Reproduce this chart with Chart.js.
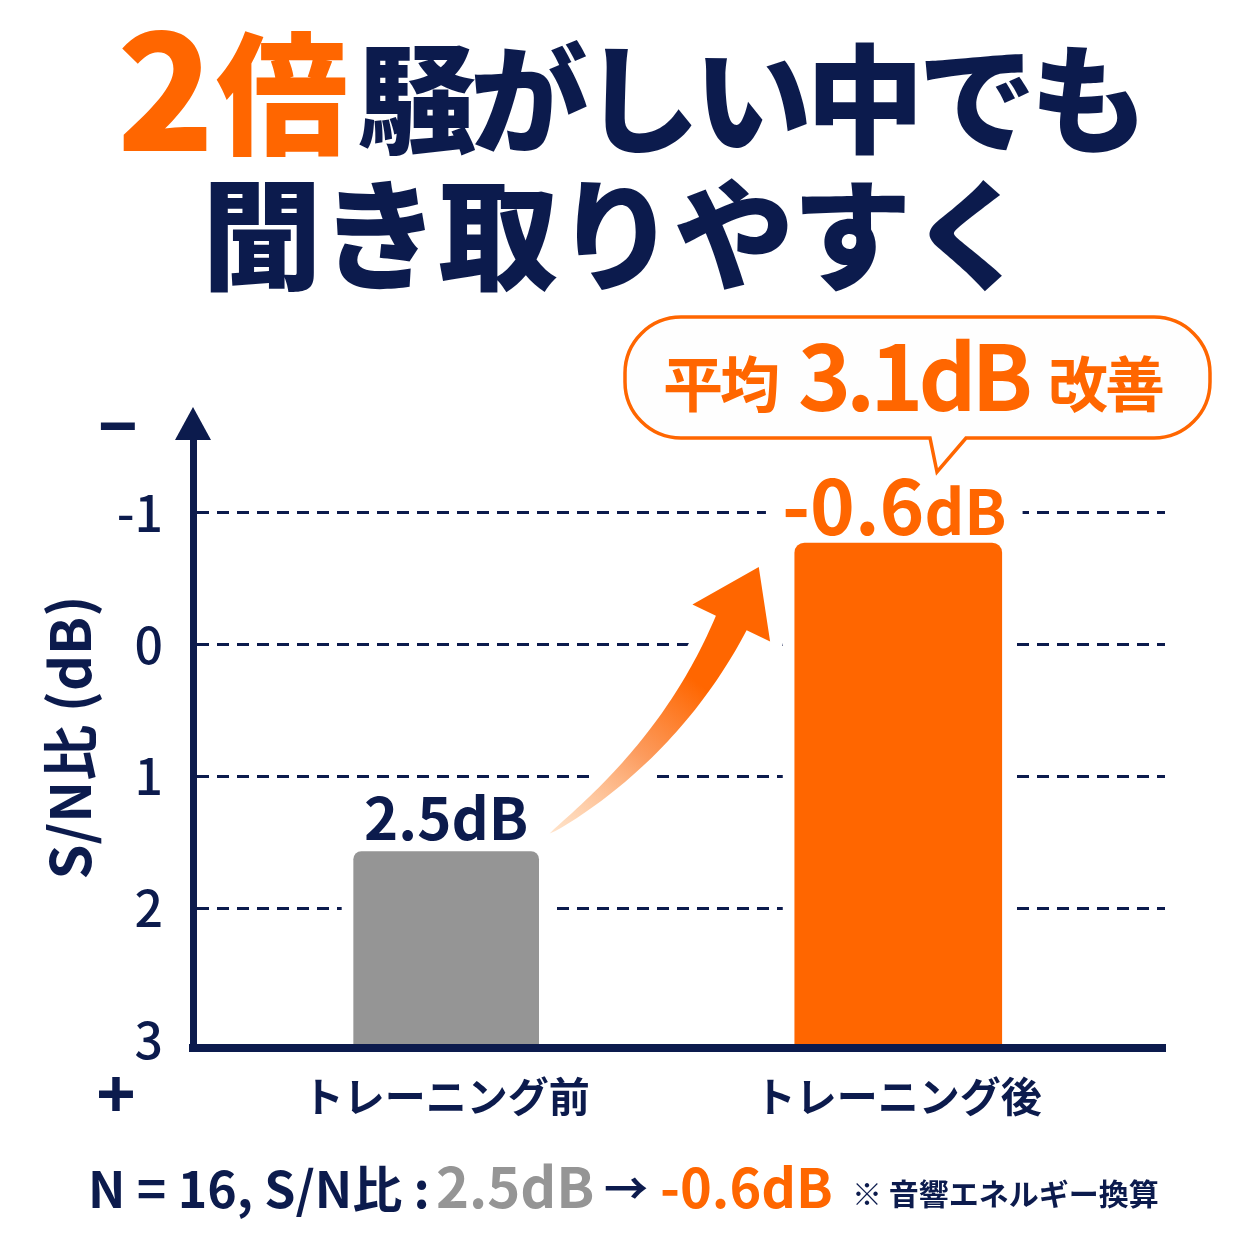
<!DOCTYPE html>
<html lang="ja">
<head>
<meta charset="utf-8">
<title>2倍騒がしい中でも聞き取りやすく</title>
<script src="https://cdn.jsdelivr.net/npm/chart.js@4.4.1/dist/chart.umd.min.js"></script>
<style>
  html, body { margin: 0; padding: 0; background: #ffffff; }
  #wrap { width: 1254px; height: 1254px; position: relative; }
</style>
</head>
<body>
<div id="wrap"><canvas id="snChart"></canvas></div>
<script>
// ---- data ----
var categories = ["トレーニング前", "トレーニング後"];
var snBarTop = [1.57, -0.77];            // bar tops as drawn (dB, axis reversed)
var valueLabels = ["2.5dB", "-0.6dB"];
var yTicks = [-1, 0, 1, 2, 3];
var yMin = -1.65;
var yMax = 3.06;

var titleHighlight = ["2", "倍"];
var titleLine1 = "騒がしい中でも";
var titleLine2 = "聞き取りやすく";
var calloutText = ["平均", "3.1dB", "改善"];
var footerText = ["N = 16, S/N比 :", "2.5dB", "→", "-0.6dB", "※ 音響エネルギー換算"];

// ---- styles ----
var NAVY = "#0c1b4d";
var ORANGE = "#ff6600";
var GRAY = "#959595";
var FONT = '"Noto Sans CJK JP", "Noto Sans", sans-serif';
var barColors = [GRAY, ORANGE];
var barWidths = [185, 207];

function font(weight, size) {
  return weight + " " + size + "px " + FONT;
}

function drawRuns(ctx, runs, x, y, align) {
  var widths = runs.map(function (r) {
    ctx.font = r.font;
    ctx.letterSpacing = r.ls || "0px";
    return ctx.measureText(r.text).width;
  });
  var total = widths.reduce(function (a, b) { return a + b; }, 0);
  var cx = align === "center" ? x - total / 2 : x;
  ctx.textAlign = "left";
  ctx.textBaseline = "alphabetic";
  runs.forEach(function (r, i) {
    ctx.font = r.font;
    ctx.letterSpacing = r.ls || "0px";
    ctx.fillStyle = r.color;
    ctx.fillText(r.text, cx, y);
    cx += widths[i];
  });
  ctx.letterSpacing = "0px";
  return total;
}

function barProps(chart, i) {
  var el = chart.getDatasetMeta(i).data[0];
  return el.getProps(["x", "y", "width", "base"], true);
}

// white gaps around the bars (grid lines stop short of them)
var barGapPlugin = {
  id: "barGap",
  beforeDatasetsDraw: function (chart) {
    var ctx = chart.ctx;
    ctx.save();
    ctx.fillStyle = "#ffffff";
    categories.forEach(function (c, i) {
      var p = barProps(chart, i);
      ctx.fillRect(p.x - p.width / 2 - 12, p.y, p.width + 24, p.base - p.y - 8);
    });
    ctx.restore();
  },
};

function bez(p0, c, p2, t) {
  var u = 1 - t;
  return { x: u * u * p0.x + 2 * u * t * c.x + t * t * p2.x, y: u * u * p0.y + 2 * u * t * c.y + t * t * p2.y };
}
function bezD(p0, c, p2, t) {
  return { x: 2 * (1 - t) * (c.x - p0.x) + 2 * t * (p2.x - c.x), y: 2 * (1 - t) * (c.y - p0.y) + 2 * t * (p2.y - c.y) };
}

var annotationPlugin = {
  id: "annotations",
  afterDatasetsDraw: function (chart) {
    var ctx = chart.ctx;
    var g = barProps(chart, 0);
    var o = barProps(chart, 1);
    ctx.save();

    // curved arrow from before-bar to after-bar
    var p0 = { x: g.x + g.width / 2 + 11, y: g.y - 18 };
    var tip = { x: o.x - o.width / 2 - 36, y: o.y + 24 };
    var p2 = { x: tip.x - 27.5, y: tip.y + 56 };
    var c = { x: p0.x + 122, y: p0.y - 85 };
    var left = [], right = [], n = 48;
    for (var i = 0; i <= n; i++) {
      var t = i / n;
      var pt = bez(p0, c, p2, t);
      var d = bezD(p0, c, p2, t);
      var len = Math.sqrt(d.x * d.x + d.y * d.y);
      var nx = -d.y / len, ny = d.x / len;
      var w = 17 * Math.pow(t, 0.7);
      left.push({ x: pt.x + nx * w, y: pt.y + ny * w });
      right.push({ x: pt.x - nx * w, y: pt.y - ny * w });
    }
    var dEnd = bezD(p0, c, p2, 1);
    var le = Math.sqrt(dEnd.x * dEnd.x + dEnd.y * dEnd.y);
    var hx = -dEnd.y / le * 43, hy = dEnd.x / le * 43;
    ctx.beginPath();
    ctx.moveTo(left[0].x, left[0].y);
    left.forEach(function (q) { ctx.lineTo(q.x, q.y); });
    ctx.lineTo(p2.x + hx, p2.y + hy);
    ctx.lineTo(tip.x, tip.y);
    ctx.lineTo(p2.x - hx, p2.y - hy);
    for (var k = right.length - 1; k >= 0; k--) ctx.lineTo(right[k].x, right[k].y);
    ctx.closePath();
    ctx.lineJoin = "round";
    ctx.strokeStyle = "#ffffff";
    ctx.lineWidth = 26;
    ctx.stroke();
    var grad = ctx.createLinearGradient(p0.x, p0.y, tip.x, tip.y);
    grad.addColorStop(0, "rgba(255, 205, 160, 0.55)");
    grad.addColorStop(0.35, "rgba(252, 150, 85, 0.95)");
    grad.addColorStop(0.62, ORANGE);
    grad.addColorStop(1, ORANGE);
    ctx.fillStyle = grad;
    ctx.fill();

    // value labels
    drawRuns(ctx, [{ text: valueLabels[0], font: font("bold", 58), color: NAVY }], g.x, g.y - 12, "center");

    var m = valueLabels[1].match(/^(.*?)(dB)$/);
    var runs = [
      { text: m[1], font: font("bold", 76), color: ORANGE },
      { text: m[2], font: font("bold", 62), color: ORANGE },
    ];
    var tw = 0;
    runs.forEach(function (r) { ctx.font = r.font; tw += ctx.measureText(r.text).width; });
    var by = o.y - 8;
    ctx.fillStyle = "#ffffff";
    ctx.fillRect(o.x - 4 - tw / 2 - 16, by - 58, tw + 32, 62);
    drawRuns(ctx, runs, o.x - 4, by, "center");

    // speech bubble
    var bx = 625, bt = 317, bw = 585, bh = 121, r = 56;
    ctx.beginPath();
    ctx.moveTo(bx + r, bt);
    ctx.lineTo(bx + bw - r, bt);
    ctx.arcTo(bx + bw, bt, bx + bw, bt + r, r);
    ctx.lineTo(bx + bw, bt + bh - r);
    ctx.arcTo(bx + bw, bt + bh, bx + bw - r, bt + bh, r);
    ctx.lineTo(966, bt + bh);
    ctx.lineTo(937, 472);
    ctx.lineTo(930, bt + bh);
    ctx.lineTo(bx + r, bt + bh);
    ctx.arcTo(bx, bt + bh, bx, bt + bh - r, r);
    ctx.lineTo(bx, bt + r);
    ctx.arcTo(bx, bt, bx + r, bt, r);
    ctx.closePath();
    ctx.fillStyle = "#fefefe";
    ctx.fill();
    ctx.strokeStyle = ORANGE;
    ctx.lineWidth = 3.5;
    ctx.lineJoin = "miter";
    ctx.stroke();

    drawRuns(ctx, [{ text: calloutText[0], font: font("bold", 60), color: ORANGE, ls: "-3px" }], 663, 407, "left");
    drawRuns(ctx, [{ text: calloutText[1], font: font("bold", 90), color: ORANGE, ls: "-5px" }], 798, 411, "left");
    drawRuns(ctx, [{ text: calloutText[2], font: font("bold", 60), color: ORANGE, ls: "-3px" }], 1048, 407, "left");
    ctx.restore();
  },
  afterDraw: function (chart) {
    var ctx = chart.ctx;
    var area = chart.chartArea;
    ctx.save();

    // arrowhead on the y axis
    ctx.fillStyle = NAVY;
    ctx.beginPath();
    ctx.moveTo(area.left, area.top - 20);
    ctx.lineTo(area.left + 18, area.top + 13);
    ctx.lineTo(area.left - 18, area.top + 13);
    ctx.closePath();
    ctx.fill();

    // − / + marks
    ctx.textAlign = "center";
    ctx.textBaseline = "alphabetic";
    ctx.font = 'bold 70px "Noto Sans", sans-serif';
    ctx.fillText("−", 118, 451);
    ctx.fillText("+", 116, 1119);

    // headline
    drawRuns(ctx, [{ text: titleHighlight[0], font: font("900", 160), color: ORANGE }], 117, 151, "left");
    drawRuns(ctx, [{ text: titleHighlight[1], font: font("900", 132), color: ORANGE }], 216, 144, "left");
    drawRuns(ctx, [{ text: titleLine1, font: font("900", 118), color: NAVY, ls: "-6px" }], 358, 144, "left");
    drawRuns(ctx, [{ text: titleLine2, font: font("900", 120), color: NAVY, ls: "-2px" }], 202, 281, "left");

    // footer
    drawRuns(ctx, [{ text: footerText[0], font: font("bold", 50), color: NAVY }], 88, 1208, "left");
    drawRuns(ctx, [{ text: footerText[1], font: font("bold", 56), color: GRAY }], 436, 1208, "left");
    drawRuns(ctx, [{ text: footerText[2], font: font("bold", 44), color: NAVY }], 604, 1205, "left");
    drawRuns(ctx, [{ text: footerText[3], font: font("bold", 54), color: ORANGE }], 660, 1208, "left");
    drawRuns(ctx, [{ text: footerText[4], font: font("bold", 30), color: NAVY }], 852, 1205, "left");
    ctx.restore();
  },
};

var ctx = document.getElementById("snChart").getContext("2d");

var chart = new Chart(ctx, {
  type: "bar",
  data: {
    datasets: categories.map(function (cat, i) {
      return {
        label: cat,
        data: [{ x: i + 1, y: snBarTop[i] }],
        backgroundColor: barColors[i],
        barThickness: barWidths[i],
        borderRadius: i === 0 ? 8 : 10,
        base: yMax,
        grouped: false,
      };
    }),
  },
  options: {
    responsive: true,
    maintainAspectRatio: false,
    animation: false,
    layout: { padding: { top: 427, right: 89, bottom: 106, left: 0 } },
    plugins: {
      legend: { display: false },
      tooltip: { enabled: false },
    },
    scales: {
      x: {
        type: "linear",
        offset: false,
        min: 0.44,
        max: 2.59,
        afterFit: function (scale) { scale.height = 100; },
        afterBuildTicks: function (scale) {
          scale.ticks = categories.map(function (c, i) { return { value: i + 1 }; });
        },
        grid: { display: false, offset: false },
        border: { display: true, color: NAVY, width: 8, z: 1 },
        ticks: {
          autoSkip: false,
          maxRotation: 0,
          padding: 16,
          color: NAVY,
          font: { family: FONT, size: 41, weight: "bold" },
          callback: function (v) { return categories[v - 1] || ""; },
        },
      },
      y: {
        type: "linear",
        reverse: true,
        min: yMin,
        max: yMax,
        afterFit: function (scale) { scale.width = 193; },
        afterBuildTicks: function (scale) {
          scale.ticks = yTicks.map(function (v) { return { value: v }; });
        },
        grid: {
          drawTicks: false,
          lineWidth: 3,
          color: function (c) {
            return c.tick && c.tick.value === yTicks[yTicks.length - 1] ? "rgba(0,0,0,0)" : NAVY;
          },
        },
        border: { display: true, color: NAVY, width: 7, dash: [12, 8], z: 1 },
        ticks: {
          padding: 30,
          color: NAVY,
          font: { family: FONT, size: 50, weight: "500" },
          callback: function (v) { return String(v); },
        },
        title: {
          display: true,
          text: "S/N比 (dB)",
          color: NAVY,
          font: { family: FONT, size: 56, weight: "bold" },
          padding: { top: 36, bottom: 0 },
        },
      },
    },
  },
  plugins: [barGapPlugin, annotationPlugin],
});
</script>
</body>
</html>
